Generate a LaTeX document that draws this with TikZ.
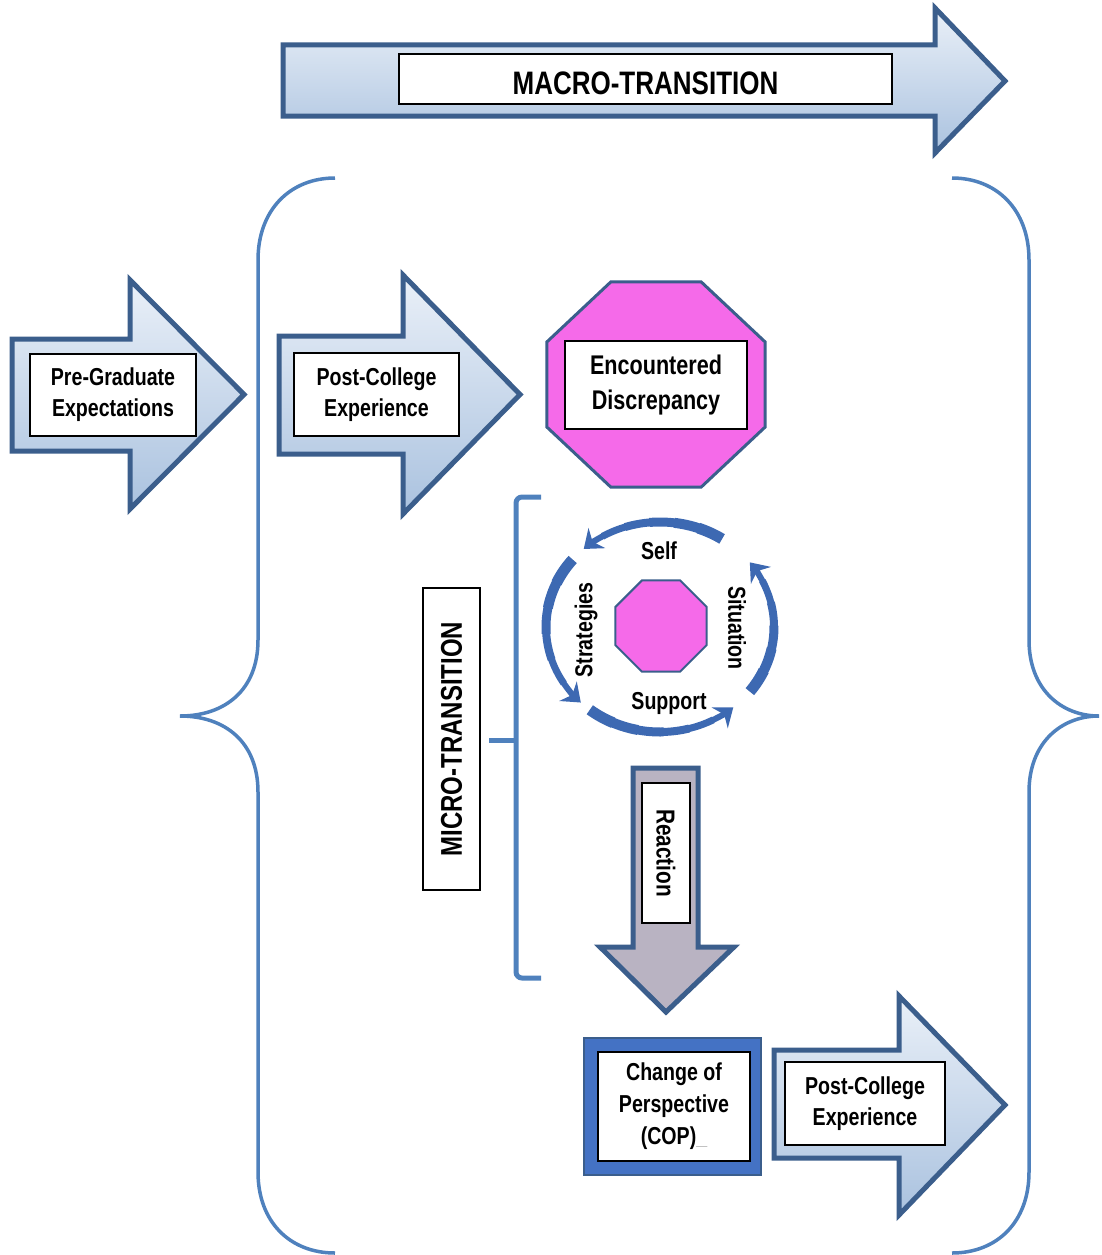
\documentclass[tikz,border=0pt]{standalone}
\usepackage{fontspec}
\setmainfont{Liberation Sans}[FakeStretch=0.8]
\usetikzlibrary{shapes.geometric,arrows.meta}
\definecolor{arrowline}{HTML}{3B5E8C}
\definecolor{arrowtop}{HTML}{EAF0F8}
\definecolor{arrowbottom}{HTML}{AAC2DF}
\definecolor{bracecol}{HTML}{4F81BD}
\definecolor{stopcol}{HTML}{F56AE9}
\definecolor{cyccol}{HTML}{3D69B2}
\definecolor{reactcol}{HTML}{B9B3C2}
\definecolor{copcol}{HTML}{4472C4}
\tikzset{
  blockarrow/.style={draw=arrowline,line width=5pt,top color=arrowtop,bottom color=arrowbottom},
  box/.style={draw=black,fill=white,line width=1.2pt,inner sep=0pt,align=center,font=\bfseries\fontsize{24.5}{31}\selectfont},
  stopsign/.style={shape=regular polygon,regular polygon sides=8,draw=arrowline,fill=stopcol,inner sep=0pt},
  cycarrow/.style={draw=cyccol,line width=6pt,-{Stealth[length=17pt,width=26pt]}},
  cyclabel/.style={font=\bfseries\fontsize{24.5}{30}\selectfont,inner sep=0pt},
  brace/.style={draw=bracecol,line width=3.5pt}
}
\newcommand\cyclearc[2]{%
  \foreach \k in {0,...,4}{
    \pgfmathsetmacro\ta{#1+(#2-#1)*\k/6}
    \pgfmathsetmacro\tb{#1+(#2-#1)*(\k+1)/6-0.8}
    \pgfmathsetmacro\w{11-\k}
    \draw[draw=cyccol,line width=\w pt] ([shift={(\ta:114 and 105)}]cyc) arc (\ta:\tb:114 and 105);
  }
  \pgfmathsetmacro\ta{#1+(#2-#1)*5/6}
  \draw[cycarrow] ([shift={(\ta:114 and 105)}]cyc) arc (\ta:#2:114 and 105);
}
\begin{document}
\begin{tikzpicture}[x=1pt,y=-1pt]
  \useasboundingbox (0,0) rectangle (1101,1255);
  \path[blockarrow] (283,45) -- (935,45) -- (935,8) -- (1005,81) -- (935,153) -- (935,116) -- (283,116) -- cycle;
  \node[box,minimum width=493pt,minimum height=50pt,text height=31pt,text depth=0pt,font=\bfseries\fontsize{32.5}{38}\selectfont] (macro) at (645.5,79) {MACRO-TRANSITION};
  \draw[brace] (335,178) .. controls (290,178) and (258,210) .. (258,260) -- (258,640) .. controls (258,690) and (225,716) .. (180,716) .. controls (225,716) and (258,742) .. (258,792) -- (258,1172) .. controls (258,1222) and (290,1253) .. (335,1253);
  \draw[brace] (952,178) .. controls (997,178) and (1029,210) .. (1029,260) -- (1029,640) .. controls (1029,690) and (1062,716) .. (1099,716) .. controls (1062,716) and (1029,742) .. (1029,792) -- (1029,1172) .. controls (1029,1222) and (997,1253) .. (952,1253);
  \path[blockarrow] (12,339) -- (130,339) -- (130,280) -- (244,394.5) -- (130,509) -- (130,451) -- (12,451) -- cycle;
  \node[box,minimum width=166pt,minimum height=82pt] (pre) at (113,395) {Pre-Graduate\\Expectations};
  \path[blockarrow] (279,336) -- (403,336) -- (403,275) -- (520,394.5) -- (403,514) -- (403,454) -- (279,454) -- cycle;
  \node[box,minimum width=165pt,minimum height=83pt] (post1) at (376.5,394.5) {Post-College\\Experience};
  \node[stopsign,line width=3pt,minimum size=222pt,xscale=1.065,transform shape] (stop) at (656,384.5) {};
  \node[box,minimum width=182pt,minimum height=88pt,font=\bfseries\fontsize{27}{35}\selectfont] (enc) at (656,385) {Encountered\\Discrepancy};
  \draw[brace,line width=5pt,rounded corners=6pt] (541,497) -- (516,497) -- (516,978) -- (541,978);
  \draw[brace,line width=5pt] (489,740) -- (516,740);
  \node[box,rotate=90,minimum width=302pt,minimum height=57pt,font=\bfseries\fontsize{30}{36}\selectfont] (micro) at (451.5,739) {MICRO-TRANSITION};
  \node[stopsign,line width=2pt,minimum size=99pt] (hub) at (661,626) {};
  \coordinate (cyc) at (660,627);
  \cyclearc{-57}{-132}
  \cyclearc{-140}{-226}
  \cyclearc{-232}{-310}
  \cyclearc{-322}{-398}
  \node[cyclabel] (self) at (659,551) {Self};
  \node[cyclabel] (supp) at (669,703) {Support};
  \node[cyclabel,rotate=90] (strat) at (586,630) {Strategies};
  \node[cyclabel,rotate=-90] (sit) at (737,628) {Situation};
  \path[draw=arrowline,line width=5pt,fill=reactcol] (633,768) -- (698,768) -- (698,947) -- (734,947) -- (666,1012) -- (600,947) -- (633,947) -- cycle;
  \node[box,rotate=-90,minimum width=140pt,minimum height=48pt,font=\bfseries\fontsize{26}{32}\selectfont] (react) at (666,853) {Reaction};
  \node[draw=arrowline,fill=copcol,line width=1.5pt,minimum width=177pt,minimum height=137pt] (copframe) at (672.5,1106.5) {};
  \node[box,line width=2.5pt,minimum width=152pt,minimum height=109pt,font=\bfseries\fontsize{24.5}{32}\selectfont] (cop) at (674,1106.5) {Change of\\Perspective\\(COP)\textcolor{lightgray}{\_}};
  \path[blockarrow] (774,1050) -- (899,1050) -- (899,996) -- (1005,1105) -- (899,1215) -- (899,1158) -- (774,1158) -- cycle;
  \node[box,minimum width=160pt,minimum height=83pt] (post2) at (865,1103.5) {Post-College\\Experience};
\end{tikzpicture}
\end{document}
